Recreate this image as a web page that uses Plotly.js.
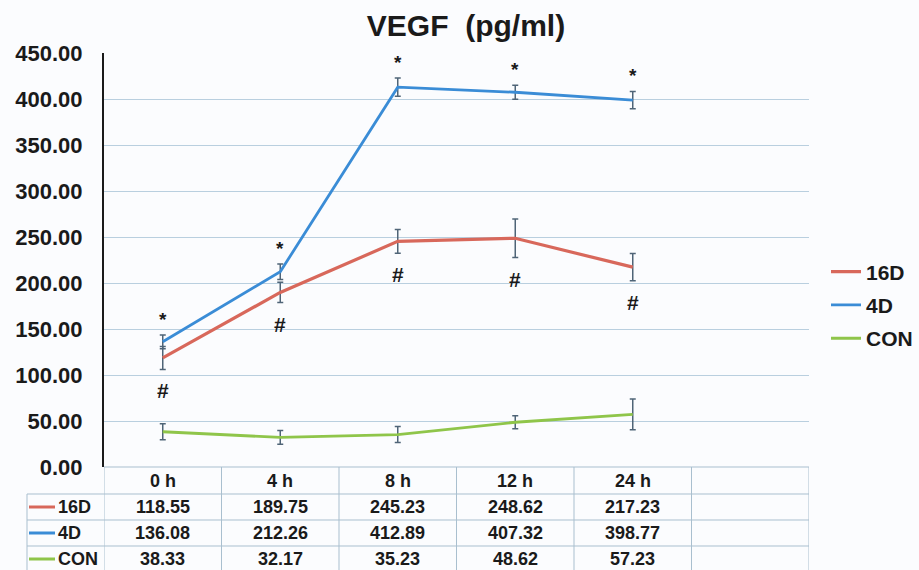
<!DOCTYPE html>
<html><head><meta charset="utf-8">
<script src="https://cdn.plot.ly/plotly-3.0.1.min.js"></script>
<style>html,body{margin:0;padding:0;background:#fbfcfe;}#chart{width:919px;height:570px;}</style>
</head><body><div id="chart"></div>
<script>
const categories = ['0 h', '4 h', '8 h', '12 h', '24 h'];
const seriesNames = ['16D', '4D', 'CON'];
const v16D = [118.55, 189.75, 245.23, 248.62, 217.23];
const v4D  = [136.08, 212.26, 412.89, 407.32, 398.77];
const vCON = [38.33, 32.17, 35.23, 48.62, 57.23];
const e16D = [12.5, 11, 13, 21, 14.7];
const e4D  = [7.5, 8.5, 10, 7.5, 9.5];
const eCON = [8.7, 7.5, 8.7, 7, 16.7];
const starMarks = ['*', '*', '*', '*', '*'];   // 4D vs CON
const hashMarks = ['#', '#', '#', '#', '#'];   // 16D vs CON
const yTicks = [0, 50, 100, 150, 200, 250, 300, 350, 400, 450];

const colors = {'16D': '#d8685b', '4D': '#3a8cd6', 'CON': '#8fc54a'};
const FONT = 'Liberation Sans, Arial, sans-serif';
const W = 919, H = 570;
const plotL = 104, plotR = 809, plotT = 53, plotB = 467, tableL = 27;
const rowEdges = [467, 494, 520, 546, 572];   // header, 16D, 4D, CON (pixel rows)
const py = p => 1 - p / H;

const values = {'16D': v16D, '4D': v4D, 'CON': vCON};
const errs = {'16D': e16D, '4D': e4D, 'CON': eCON};

const traces = seriesNames.map((name, k) => ({
  type: 'scatter', mode: 'lines', name: name, legendgroup: 'g' + k,
  x: categories, y: values[name],
  line: {color: colors[name], width: name === '16D' ? 3.2 : 2.8},
  error_y: {type: 'data', array: errs[name], visible: true, color: '#4f6477', thickness: 1.5, width: 3},
  xaxis: 'x', yaxis: 'y', hoverinfo: 'skip'
}));

const nCols = categories.length + 1; // includes empty trailing column
const lineC = '#a9bfcf';
const shapes = [];
const annotations = [];
const tfont = {family: FONT, size: 18, color: '#1a1a1a'};

// table grid
shapes.push({type: 'line', xref: 'x', yref: 'paper', x0: -0.5, x1: nCols - 0.5, y0: py(rowEdges[0]), y1: py(rowEdges[0]), line: {color: lineC, width: 1}});
for (let r = 1; r < rowEdges.length - 1; r++) {
  shapes.push({type: 'line', xref: 'paper', yref: 'paper', x0: tableL / W, x1: plotR / W, y0: py(rowEdges[r]), y1: py(rowEdges[r]), line: {color: lineC, width: 1}});
}
for (let j = 0; j <= nCols; j++) {
  shapes.push({type: 'line', xref: 'x', yref: 'paper', x0: j - 0.5, x1: j - 0.5, y0: 0, y1: py(rowEdges[0]), line: {color: lineC, width: 1}});
}
shapes.push({type: 'line', xref: 'paper', yref: 'paper', x0: tableL / W, x1: tableL / W, y0: 0, y1: py(rowEdges[1]), line: {color: lineC, width: 1}});

// header row: categories
const rowMid = r => py((rowEdges[r] + rowEdges[r + 1]) / 2);
categories.forEach(c => {
  annotations.push({x: c, y: rowMid(0), xref: 'x', yref: 'paper', text: '<b>' + c + '</b>', showarrow: false, yanchor: 'middle', font: tfont});
});
// data rows
seriesNames.forEach((n, k) => {
  const r = k + 1;
  shapes.push({type: 'line', xref: 'paper', yref: 'paper', x0: 29 / W, x1: 55 / W, y0: rowMid(r), y1: rowMid(r), line: {color: colors[n], width: 3}});
  annotations.push({x: 56 / W, y: rowMid(r), xref: 'paper', yref: 'paper', text: '<b>' + n + '</b>', showarrow: false, xanchor: 'left', yanchor: 'middle', font: tfont});
  categories.forEach((c, j) => {
    annotations.push({x: c, y: rowMid(r), xref: 'x', yref: 'paper', text: '<b>' + values[n][j].toFixed(2) + '</b>', showarrow: false, yanchor: 'middle', font: tfont});
  });
});

// significance marks
categories.forEach((c, i) => {
  annotations.push({x: c, y: v4D[i] + e4D[i], xref: 'x', yref: 'y', text: '<b>' + starMarks[i] + '</b>',
    showarrow: false, yanchor: 'bottom', yshift: 3, font: {family: FONT, size: 19, color: '#1a1a1a'}});
  annotations.push({x: c, y: v16D[i] - e16D[i], xref: 'x', yref: 'y', text: '<b>' + hashMarks[i] + '</b>',
    showarrow: false, yanchor: 'top', yshift: -8, font: {family: FONT, size: 21, color: '#1a1a1a'}});
});

const layout = {
  width: W, height: H,
  margin: {l: 0, r: 0, t: 0, b: 0},
  paper_bgcolor: '#fbfcfe', plot_bgcolor: '#fbfcfe',
  title: {text: '<b>VEGF  (pg/ml)</b>', x: 466 / W, xanchor: 'center', y: 1 - 25 / H, yanchor: 'middle', yref: 'container',
    font: {family: FONT, size: 30, color: '#1a1a1a'}},
  xaxis: {type: 'category', categoryarray: categories, range: [-0.5, nCols - 0.5],
    domain: [plotL / W, plotR / W], showticklabels: false, showgrid: false, zeroline: false, showline: false,
    automargin: false, fixedrange: true},
  yaxis: {range: [0, 450], tickvals: yTicks, tickformat: '.2f', domain: [1 - plotB / H, 1 - plotT / H],
    showgrid: true, gridcolor: '#b9cfdf', gridwidth: 1, zeroline: false,
    showline: true, linecolor: '#1a1a1a', linewidth: 2, ticks: '', ticklabelstandoff: 15,
    tickfont: {family: FONT, size: 22, color: '#1a1a1a', weight: 'bold'}, automargin: false, fixedrange: true},
  showlegend: true,
  legend: {x: 826 / W, xanchor: 'left', y: 1 - 305 / H, yanchor: 'middle', tracegroupgap: 3, itemwidth: 30,
    bgcolor: 'rgba(0,0,0,0)', font: {family: FONT, size: 21, color: '#1a1a1a', weight: 'bold'}},
  shapes: shapes,
  annotations: annotations
};

Plotly.newPlot('chart', traces, layout, {displayModeBar: false, staticPlot: true});
</script>
</body></html>
